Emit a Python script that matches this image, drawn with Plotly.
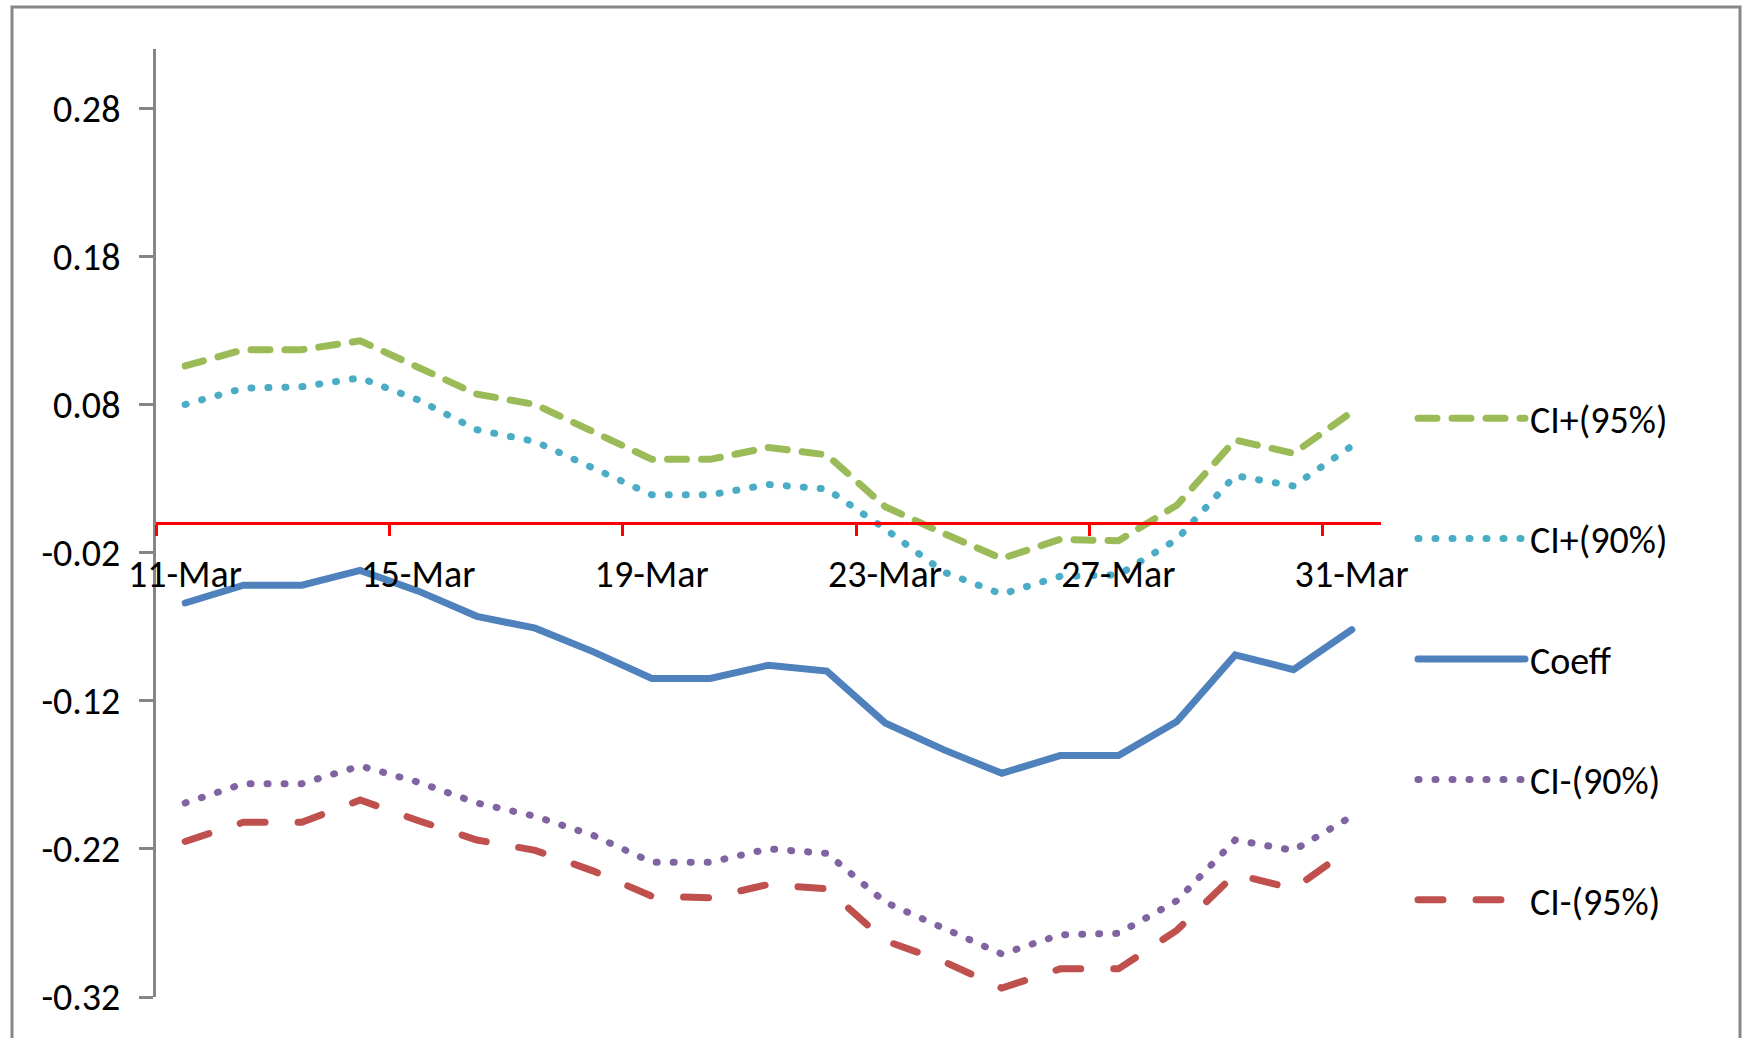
import plotly.graph_objects as go
import pandas as pd

# ---------------- data ----------------
dates = pd.date_range("2020-03-11", "2020-03-31", freq="D")
tick_labels = ["11-Mar", "15-Mar", "19-Mar", "23-Mar", "27-Mar", "31-Mar"]
y_ticks = [-0.32, -0.22, -0.12, -0.02, 0.08, 0.18, 0.28]
y_tick_labels = ["-0.32", "-0.22", "-0.12", "-0.02", "0.08", "0.18", "0.28"]

ci_plus_95 = [0.106, 0.117, 0.117, 0.123, 0.105, 0.087, 0.080, 0.062, 0.043, 0.043, 0.051,
              0.046, 0.011, -0.007, -0.024, -0.011, -0.012, 0.012, 0.056, 0.047, 0.075]
ci_plus_90 = [0.080, 0.091, 0.092, 0.098, 0.083, 0.063, 0.055, 0.037, 0.019, 0.019, 0.026,
              0.023, -0.004, -0.033, -0.048, -0.036, -0.035, -0.011, 0.032, 0.025, 0.052]
coeff = [-0.054, -0.042, -0.042, -0.032, -0.046, -0.063, -0.071, -0.087, -0.105, -0.105, -0.096,
         -0.100, -0.135, -0.153, -0.169, -0.157, -0.157, -0.134, -0.089, -0.099, -0.072]
ci_minus_90 = [-0.189, -0.176, -0.176, -0.164, -0.175, -0.189, -0.198, -0.211, -0.229, -0.229, -0.220,
               -0.223, -0.256, -0.274, -0.291, -0.278, -0.277, -0.255, -0.214, -0.221, -0.198]
ci_minus_95 = [-0.215, -0.202, -0.202, -0.187, -0.201, -0.214, -0.221, -0.235, -0.252, -0.253, -0.244,
               -0.247, -0.282, -0.296, -0.314, -0.301, -0.301, -0.275, -0.237, -0.247, -0.219]

# ---------------- layout constants ----------------
W, H = 1746, 1038
ML, MR, MT, MB = 156, 365, 49, 41
PW, PH = W - ML - MR, H - MT - MB
Y_MIN, Y_MAX = -0.32, 0.32
FONT = "Carlito, Calibri, Lato, sans-serif"
FS = 38
AXIS_GRAY = "#868686"
LW = 7

series = [
    ("CI+(95%)", ci_plus_95, "#9BBB59", "19px,15px"),
    ("CI+(90%)", ci_plus_90, "#4BACC6", "1px,16px"),
    ("Coeff", coeff, "#4F81BD", "solid"),
    ("CI-(90%)", ci_minus_90, "#8064A2", "1px,16px"),
    ("CI-(95%)", ci_minus_95, "#C0504D", "25px,33px"),
]

fig = go.Figure()
for i, (name, vals, color, dash) in enumerate(series):
    fig.add_trace(go.Scatter(
        x=dates, y=vals, name=name, mode="lines",
        line=dict(color=color, width=LW, dash=dash),
        legendgroup=f"g{i}",
    ))

half_day = pd.Timedelta(hours=12)
x_range = [dates[0] - half_day, dates[-1] + half_day]
tick_pos = [dates[0] - half_day + pd.Timedelta(days=4 * k) for k in range(len(tick_labels))]
zero_pos = (0 - Y_MIN) / (Y_MAX - Y_MIN)

fig.update_layout(
    width=W, height=H,
    margin=dict(l=ML, r=MR, t=MT, b=MB, pad=0, autoexpand=False),
    paper_bgcolor="white", plot_bgcolor="white",
    font=dict(family=FONT, size=FS, color="black"),
    showlegend=True,
    legend=dict(
        x=(1413 - ML) / PW, xanchor="left",
        y=(H - MB - 387) / PH, yanchor="top",
        font=dict(family=FONT, size=FS, color="black"),
        tracegroupgap=68, itemwidth=107,
        bgcolor="rgba(0,0,0,0)",
    ),
    xaxis=dict(
        type="date", range=x_range,
        anchor="free", position=zero_pos,
        showline=True, linecolor="#FF0000", linewidth=2.5,
        ticks="outside", ticklen=11, tickwidth=2.5, tickcolor="#FF0000",
        tickmode="array", tickvals=tick_pos, ticktext=tick_labels,
        ticklabelshift=round(PW / len(dates) / 2), ticklabelstandoff=6,
        showgrid=False, zeroline=False, automargin=False,
        tickfont=dict(family=FONT, size=FS, color="black"),
    ),
    yaxis=dict(
        range=[Y_MIN, Y_MAX],
        tickmode="array", tickvals=y_ticks, ticktext=y_tick_labels,
        showline=True, linecolor=AXIS_GRAY, linewidth=3,
        ticks="outside", ticklen=14, tickwidth=3, tickcolor=AXIS_GRAY,
        ticklabelstandoff=11,
        showgrid=False, zeroline=False, automargin=False,
        tickfont=dict(family=FONT, size=FS, color="black"),
    ),
)

# chart-area border (Excel style)
fig.add_shape(
    type="rect", xref="paper", yref="paper",
    x0=(12 - ML) / PW, x1=(1740 - ML) / PW,
    y0=(H - MB - 1060) / PH, y1=(H - MB - 7) / PH,
    line=dict(color="#878787", width=3), fillcolor="rgba(0,0,0,0)",
    layer="below",
)

post = """
document.body.style.margin = '0';
document.querySelectorAll('.scatterlayer .js-line, .legend .js-line').forEach(function (p) {
    p.style.strokeLinecap = 'round';
});
"""

fig.write_html("out.html", post_script=post, config={"displayModeBar": False})
